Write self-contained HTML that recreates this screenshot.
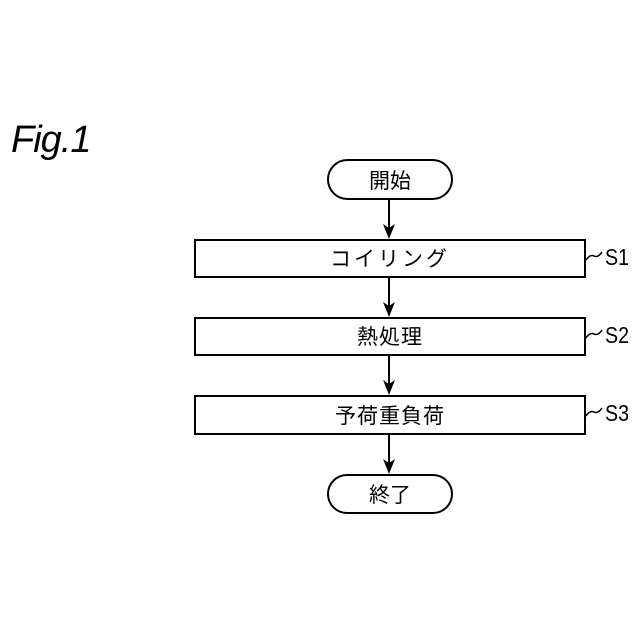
<!DOCTYPE html>
<html><head><meta charset="utf-8"><style>
body{margin:0;background:#fff;}
svg{display:block;}
.j{font-family:"Liberation Sans","Noto Sans CJK JP",sans-serif;font-size:21px;fill:#000;}
.s{font-family:"Liberation Sans",sans-serif;font-size:23px;fill:#000;}
</style></head><body>
<svg width="640" height="640" viewBox="0 0 640 640" xmlns="http://www.w3.org/2000/svg">
<text x="11" y="152" font-family="Liberation Sans,sans-serif" font-style="italic" font-size="38" letter-spacing="-1">Fig.1</text>
<g fill="none" stroke="#000" stroke-width="2">
<rect x="328" y="160" width="124" height="39" rx="19.5"/>
<rect x="195" y="240" width="390" height="37"/>
<rect x="195" y="318" width="390" height="37"/>
<rect x="195" y="396" width="390" height="38"/>
<rect x="328" y="475" width="124" height="38" rx="19"/>
<line x1="389" y1="199" x2="389" y2="232"/>
<line x1="389" y1="277" x2="389" y2="310"/>
<line x1="389" y1="355" x2="389" y2="388"/>
<line x1="389" y1="434" x2="389" y2="467"/>
<path d="M586,260 q4,-6 8,-4 t8,-4" stroke-width="1.5"/>
<path d="M586,338 q4,-6 8,-4 t8,-4" stroke-width="1.5"/>
<path d="M586,416 q4,-6 8,-4 t8,-4" stroke-width="1.5"/>
</g>
<g fill="#000">
<path d="M383,224 L389,239 L395,224 L389,228 Z"/>
<path d="M383,302 L389,317 L395,302 L389,306 Z"/>
<path d="M383,380 L389,395 L395,380 L389,384 Z"/>
<path d="M383,459 L389,474 L395,459 L389,463 Z"/>
</g>
<g class="j" text-anchor="middle">
<text x="390" y="188">開始</text>
<text x="390" y="266" letter-spacing="3">コイリング</text>
<text x="390" y="344" letter-spacing="1">熱処理</text>
<text x="390" y="423" letter-spacing="1">予荷重負荷</text>
<text x="390" y="502">終了</text>
</g>
<g class="s">
<text x="605" y="265" textLength="24" lengthAdjust="spacingAndGlyphs">S1</text>
<text x="605" y="343" textLength="24" lengthAdjust="spacingAndGlyphs">S2</text>
<text x="605" y="421" textLength="24" lengthAdjust="spacingAndGlyphs">S3</text>
</g>
</svg>
</body></html>
